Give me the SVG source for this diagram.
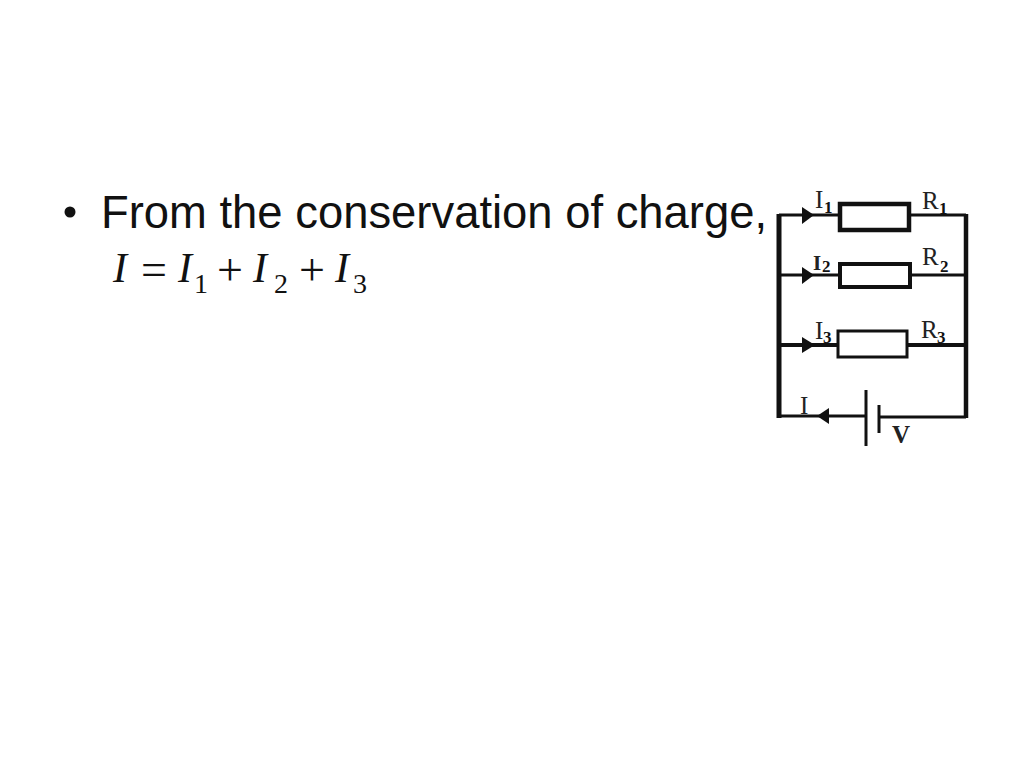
<svg xmlns="http://www.w3.org/2000/svg" width="1024" height="768" viewBox="0 0 1024 768">
<style>
.body{font-family:"Liberation Sans",Arial,sans-serif;font-size:45.4px;fill:#111}
.eq{font-family:"Liberation Serif","Times New Roman",serif;fill:#111}
.v{font-size:42px;font-style:italic}
.n{font-size:28px}
.o{font-size:46px}
.lab{font-family:"Liberation Serif","Times New Roman",serif;font-size:25px;fill:#222}
.sub{font-family:"Liberation Serif","Times New Roman",serif;font-size:17px;font-weight:bold;fill:#111}
.w{stroke:#111;fill:none}
.r{stroke:#111;fill:#fff}
.a{fill:#111}
</style>
<rect width="1024" height="768" fill="#fff"/>
<g id="text">
<circle cx="70" cy="212" r="5.5" fill="#111"/>
<text class="body" x="101" y="228">From the conservation of charge,</text>
</g>
<g id="equation">
<text class="eq v" x="113" y="282">I</text>
<text class="eq o" x="141" y="285">=</text>
<text class="eq v" x="178" y="282">I</text>
<text class="eq n" x="194" y="293">1</text>
<text class="eq o" x="217" y="285">+</text>
<text class="eq v" x="253" y="282">I</text>
<text class="eq n" x="274" y="293">2</text>
<text class="eq o" x="299" y="285">+</text>
<text class="eq v" x="335" y="282">I</text>
<text class="eq n" x="353" y="293">3</text>
</g>
<g id="connectors">
<path class="w" stroke-width="5" d="M779 214V418"/>
<path class="w" stroke-width="4.5" d="M966 214V418"/>
<path class="w" stroke-width="3" d="M779 215H840M909 215H966"/>
<path class="w" stroke-width="3" d="M779 275H840M910 275H966"/>
<path class="w" stroke-width="4" d="M779 345H838M907 345H966"/>
<path class="w" stroke-width="3" d="M779 416H866M879 417H966"/>
<path class="a" d="M802 207L814 215L802 224Z"/>
<path class="a" d="M802 267L814 275L802 284Z"/>
<path class="a" d="M802 337L815 345L802 353Z"/>
<path class="a" d="M829 408L817 416L829 424Z"/>
</g>
<g id="R1"><rect class="r" stroke-width="4.5" x="840" y="204" width="69" height="26"/></g>
<g id="R2"><rect class="r" stroke-width="4" x="840" y="264" width="70" height="23"/></g>
<g id="R3"><rect class="r" stroke-width="3" x="838" y="331" width="69" height="26"/></g>
<g id="battery">
<path class="w" stroke-width="3" d="M866 390V446"/>
<path class="w" stroke-width="3" d="M879 405V433"/>
</g>
<g id="labels">
<text class="lab" x="815" y="208">I</text><text class="sub" x="824" y="213">1</text>
<text class="lab" x="813" y="270" font-weight="bold" style="font-size:21px">I</text><text class="sub" x="822" y="272">2</text>
<text class="lab" x="815" y="339">I</text><text class="sub" x="823" y="343">3</text>
<text class="lab" x="922" y="209">R</text><text class="sub" x="939" y="214">1</text>
<text class="lab" x="922" y="265">R</text><text class="sub" x="940" y="272">2</text>
<text class="lab" x="921" y="338">R</text><text class="sub" x="937" y="343">3</text>
<text class="lab" x="800" y="414">I</text>
<text class="lab" x="892" y="443" font-weight="bold" fill="#444">V</text>
</g>
</svg>
